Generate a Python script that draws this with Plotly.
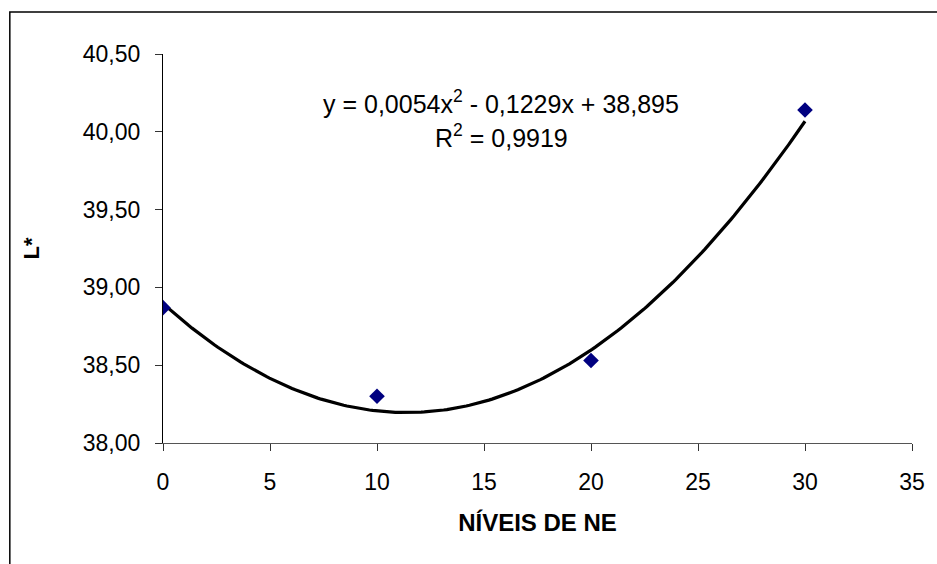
import numpy as np
import plotly.graph_objects as go

# Measured L* at each NE level
niveis = [0, 10, 20, 30]
l_star = [38.87, 38.30, 38.53, 40.14]

# Quadratic trendline coefficients (a*x^2 + b*x + c)
coef = [0.0054, -0.1229, 38.895]
r2 = 0.9919

x_ticks = [0, 5, 10, 15, 20, 25, 30, 35]
y_ticks = [38.0, 38.5, 39.0, 39.5, 40.0, 40.5]

xs = np.linspace(min(niveis), max(niveis), 200)
ys = np.polyval(coef, xs)

font_family = "Liberation Sans, Arial, sans-serif"

fig = go.Figure()
fig.add_trace(go.Scatter(
    x=xs, y=ys, mode="lines",
    line=dict(color="black", width=3.2),
    hoverinfo="skip", showlegend=False,
))
fig.add_trace(go.Scatter(
    x=niveis, y=l_star, mode="markers",
    marker=dict(symbol="diamond", size=12, color="#000080"),
    showlegend=False,
))

eq_text = (f"y = {coef[0]:.4f}x<sup>2</sup> - {abs(coef[1]):.4f}x + {coef[2]:.3f}"
           .replace(".", ","))
r2_text = f"R<sup>2</sup> = {r2:.4f}".replace(".", ",")

fig.add_annotation(
    x=15.8, y=40.19, xref="x", yref="y", text=eq_text, showarrow=False,
    font=dict(family=font_family, size=25, color="black"), xanchor="center",
)
fig.add_annotation(
    x=15.8, y=39.97, xref="x", yref="y", text=r2_text, showarrow=False,
    font=dict(family=font_family, size=25, color="black"), xanchor="center",
)

# Outer chart frame (left and top edges visible, the rest runs off the page)
fig.add_shape(
    type="rect", xref="paper", yref="paper",
    x0=-154 / 753, y0=1 + 42 / 389, x1=1.2, y1=-0.5,
    line=dict(color="black", width=1.5), layer="below",
)

fig.update_layout(
    width=937, height=564,
    margin=dict(l=163, r=21, t=54, b=121),
    paper_bgcolor="white", plot_bgcolor="white",
    separators=",.",
    font=dict(family=font_family, size=23, color="black"),
    xaxis=dict(
        range=[0, 35], tickvals=x_ticks, ticktext=[str(v) for v in x_ticks],
        showgrid=False, zeroline=False,
        showline=True, linecolor="#555555", linewidth=1.2,
        ticks="outside", ticklen=7, tickcolor="#333333", tickwidth=1,
        ticklabelstandoff=11,
        title=dict(text="<b>NÍVEIS DE NE</b>", standoff=20,
                   font=dict(family=font_family, size=24)),
    ),
    yaxis=dict(
        range=[38, 40.5], tickvals=y_ticks, tickformat=".2f",
        showgrid=False, zeroline=False,
        showline=True, linecolor="black", linewidth=1.2,
        ticks="outside", ticklen=7, tickcolor="#333333", tickwidth=1,
        ticklabelstandoff=10,
        title=dict(text="<b>L*</b>", standoff=37,
                   font=dict(family=font_family, size=22)),
    ),
)

fig.write_html("out.html")
